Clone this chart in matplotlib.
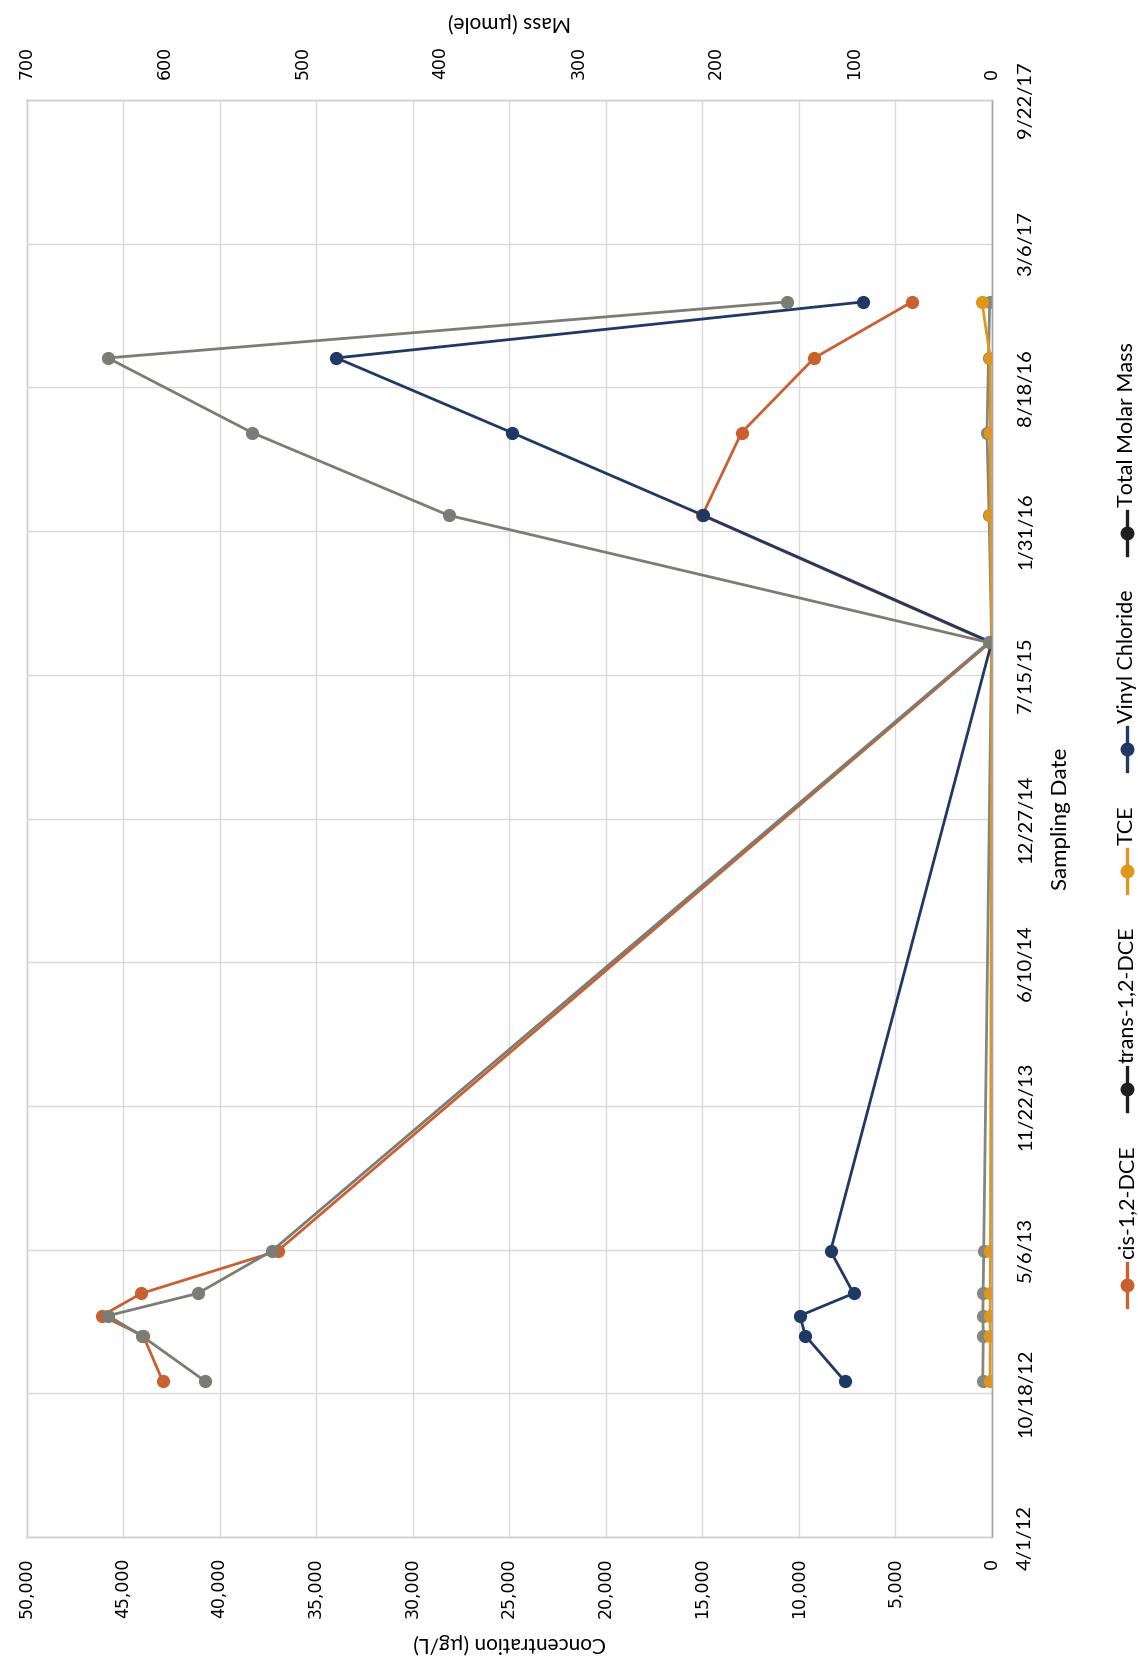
import datetime as dt
import numpy as np
import matplotlib
matplotlib.use("Agg")
import matplotlib.pyplot as plt
import matplotlib.dates as mdates
from matplotlib.lines import Line2D
from matplotlib.ticker import FuncFormatter

# sampling events
sample_dates = ["2012-11-04", "2013-01-06", "2013-02-03", "2013-03-06", "2013-05-04",
                "2015-08-29", "2016-02-22", "2016-06-16", "2016-09-28", "2016-12-15"]

# concentrations (ug/L)
cis_dce = [42950, 43950, 46100, 44050, 37000, 100, 15000, 12970, 9200, 4150]
trans_dce = [480, 450, 470, 460, 430, 20, 150, 260, 180, 120]
tce = [100, 90, 100, 90, 80, 10, 80, 80, 90, 520]
vinyl_chloride = [7630, 9660, 9950, 7170, 8360, 20, 14960, 24860, 33950, 6660]

# total molar mass (umole)
total_mass = [570.6, 616.5, 640.9, 575.9, 522.2, 2.5, 394.0, 536.4, 641.0, 148.9]

series_names = ["cis-1,2-DCE", "trans-1,2-DCE", "TCE", "Vinyl Chloride", "Total Molar Mass"]
plot_colors = ["#C8602F", "#85867E", "#E0961A", "#1F3864", "#7B7D74"]
legend_colors = ["#C8602F", "#1E1E1E", "#E0961A", "#1F3864", "#1E1E1E"]

conc_ticks = np.arange(0, 50001, 5000)
mass_ticks = np.arange(0, 701, 100)
date_start = dt.date(2012, 4, 1)
date_end = dt.date(2017, 9, 22)

W, H = 1138, 1663
plt.rcParams["font.family"] = ["Lato", "DejaVu Sans"]


def date_label(x, pos=None):
    d = mdates.num2date(x)
    return f"{d.month}/{d.day}/{d.year % 100}"


def main():
    fig = plt.figure(figsize=(W / 100, H / 100), dpi=100)
    fig.patch.set_facecolor("white")

    left, right, top, bottom = 26.5, 992, 100, 1537
    ax = fig.add_axes([left / W, 1 - bottom / H, (right - left) / W, (bottom - top) / H])
    ax2 = ax.twiny()

    dates = np.array(sample_dates, dtype="datetime64[D]")

    # concentration series, x axis reversed (rotated page)
    for vals, col, name in zip([cis_dce, trans_dce, tce, vinyl_chloride], plot_colors[:4], series_names[:4]):
        ax.plot(vals, dates, color=col, lw=2.0, marker="o", ms=8.5, mfc=col, mec=col, label=name)

    ax2.plot(total_mass, dates, color=plot_colors[4], lw=2.0, marker="o", ms=8.5,
             mfc=plot_colors[4], mec=plot_colors[4])

    ax.set_xlim(50000, 0)
    ax2.set_xlim(700, 0)
    ymin, ymax = mdates.date2num(date_start), mdates.date2num(date_end)
    ax.set_ylim(ymin, ymax)

    ax.set_xticks(conc_ticks)
    ax.xaxis.set_major_formatter(FuncFormatter(lambda v, p: f"{int(v):,}"))
    ax2.set_xticks(mass_ticks)

    ax.set_yticks(np.arange(ymin, ymax + 1, 200))
    ax.yaxis.set_major_formatter(FuncFormatter(date_label))
    ax.yaxis.tick_right()

    ax.tick_params(axis="x", length=0, pad=15, labelsize=12.5, labelrotation=90)
    ax2.tick_params(axis="x", length=0, pad=15, labelsize=12.5, labelrotation=90)
    ax.tick_params(axis="y", length=0, pad=18, labelsize=14.5, labelrotation=90)
    for lab in ax.get_xticklabels() + ax2.get_xticklabels():
        lab.set_fontfamily("DejaVu Sans")
    for lab in ax.get_yticklabels():
        lab.set_verticalalignment("center")

    ax.grid(True, color="#D9D9D9", lw=1.0)
    ax.set_axisbelow(True)
    for a in (ax, ax2):
        for s in a.spines.values():
            s.set_color("#D0D0D0")
            s.set_linewidth(1.0)
    ax.spines["right"].set_color("#A6A6A6")
    ax2.spines["right"].set_color("#A6A6A6")

    ax.set_xlabel("Concentration (\u00b5g/L)", fontsize=15, rotation=180)
    ax.xaxis.set_label_coords(0.5, -(1643 - bottom) / (bottom - top))
    ax.xaxis.label.set_verticalalignment("center")
    ax2.set_xlabel("Mass (\u00b5mole)", fontsize=15, rotation=180)
    ax2.xaxis.set_label_coords(0.5, 1 + (top - 22) / (bottom - top))
    ax2.xaxis.label.set_verticalalignment("center")

    ax.yaxis.set_label_position("right")
    ax.set_ylabel("Sampling Date", fontsize=16, rotation=90)
    ax.yaxis.set_label_coords((1061 - left) / (right - left), 0.5)
    ax.yaxis.label.set_verticalalignment("center")
    ax.yaxis.label.set_horizontalalignment("center")

    # legend, laid out along the right edge (page is rotated)
    fig.canvas.draw()
    renderer = fig.canvas.get_renderer()
    leg_x = 1127 / W
    y_px = 1285.0
    for name, col in zip(series_names, legend_colors):
        yc = 1 - y_px / H
        fig.add_artist(Line2D([leg_x, leg_x], [yc - 22 / H, yc + 22 / H], color=col, lw=2.4,
                              transform=fig.transFigure))
        fig.add_artist(Line2D([leg_x], [yc], color=col, marker="o", ms=9, mfc=col, mec=col,
                              transform=fig.transFigure))
        txt = fig.text(leg_x, 1 - (y_px - 26) / H, name, rotation=90, ha="center", va="bottom",
                       fontsize=15.5)
        ext = txt.get_window_extent(renderer)
        y_px = y_px - 26 - ext.height - 56

    fig.savefig("out.png", dpi=100, facecolor="white")
    plt.close(fig)


if __name__ == "__main__":
    main()
